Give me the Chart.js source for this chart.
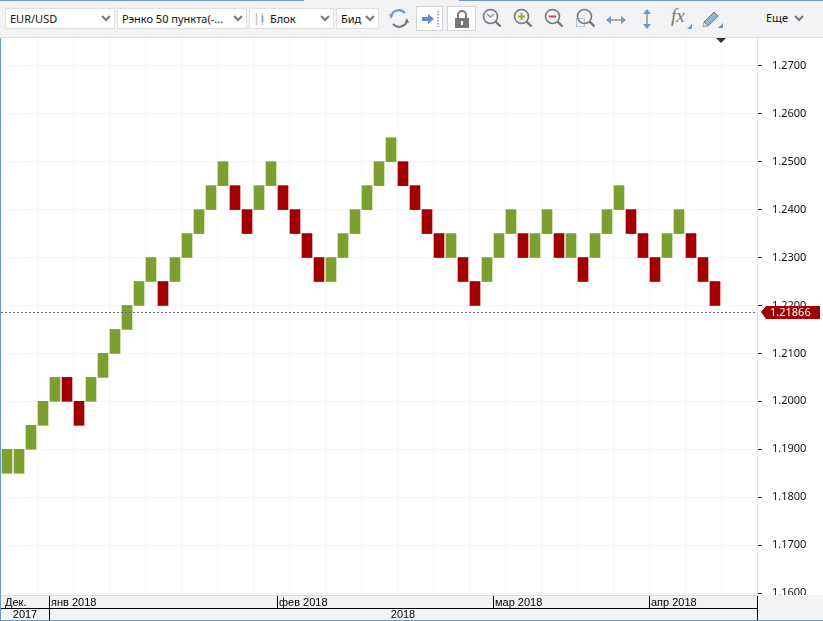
<!DOCTYPE html>
<html>
<head>
<meta charset="utf-8">
<title>EUR/USD</title>
<script src="https://cdn.jsdelivr.net/npm/chart.js@4"></script>
<style>
html, body { margin: 0; padding: 0; background: #fff; overflow: hidden; }
#wrap { position: relative; width: 823px; height: 621px; overflow: hidden; font-family: "Noto Sans", sans-serif; }
#myChart { position: absolute; left: 0; top: 0; }
#toolbar { position: absolute; left: 0; top: 0; width: 823px; height: 37px; background: #f3f3f6; border-bottom: 1px solid #dcdcdc; }
.line { position: absolute; top: 0; height: 1px; background: #6f97c8; }
.combo { position: absolute; top: 8px; height: 21px; line-height: 20px; background: #fff; border: 1px solid #e0e0e0; box-sizing: border-box; font-size: 11px; color: #111; padding-left: 4px; white-space: nowrap; }
.combo svg, .icon { position: absolute; }
.combo svg.arrow { right: 3px; top: 6px; }
.btn { position: absolute; top: 6px; width: 27px; height: 25px; background: #fff; border: 1px solid #d4d4d4; box-sizing: border-box; }
#more { position: absolute; left: 766px; top: 10px; font-size: 11px; color: #111; }
</style>
</head>
<body>
<div id="wrap">
<canvas id="myChart" width="823" height="621"></canvas>
<div id="toolbar">
    <div class="line" style="left:0;width:304px"></div>
    <div class="line" style="left:459px;width:364px"></div>
    <div class="combo" style="left:5px;width:110px">EUR/USD<svg class="arrow" width="10" height="8"><path d="M1 1l4 4 4-4" fill="none" stroke="#777" stroke-width="2"/></svg></div>
    <div class="combo" style="left:117px;width:130px">Рэнко 50 пункта(-...<svg class="arrow" width="10" height="8"><path d="M1 1l4 4 4-4" fill="none" stroke="#777" stroke-width="2"/></svg></div>
    <div class="combo" style="left:249px;width:85px;padding-left:20px"><svg style="left:4px;top:3px" width="11" height="14"><path d="M2.5 1v12M8.5 1v12" stroke="#c8c8c8" stroke-width="1.5"/><path d="M8.5 4v6" stroke="#7fa3cf" stroke-width="1.5"/></svg>Блок<svg class="arrow" width="10" height="8"><path d="M1 1l4 4 4-4" fill="none" stroke="#777" stroke-width="2"/></svg></div>
    <div class="combo" style="left:336px;width:43px">Бид<svg class="arrow" width="10" height="8"><path d="M1 1l4 4 4-4" fill="none" stroke="#777" stroke-width="2"/></svg></div>

    <svg class="icon" style="left:388px;top:7px" width="22" height="24" fill="none"><path d="M3 10a8 8 0 0 1 14-4" stroke="#6f97c8" stroke-width="2"/><path d="M19 13a8 8 0 0 1-14 4" stroke="#777" stroke-width="2"/><path d="M1 7l4 1-2 4z" fill="#6f97c8"/><path d="M21 16l-4-1 2-4z" fill="#777"/></svg>
    <div class="btn" style="left:416px"><svg class="icon" style="left:3px;top:3px" width="22" height="18"><path d="M2 7h6V4l6 5-6 5v-3H2z" fill="#5a8fd0"/><path d="M18 1v16" stroke="#555" stroke-dasharray="1.5 1.5"/></svg></div>
    <div class="btn" style="left:447px;width:29px"><svg class="icon" style="left:6px;top:3px" width="16" height="18"><path d="M4 8V5a4 4 0 0 1 8 0v3" fill="none" stroke="#777" stroke-width="2"/><path d="M1 8h14v10H1z" fill="#777"/><path d="M7 11h2v4H7z" fill="#fff"/></svg></div>

    <svg class="icon" style="left:482px;top:8px" width="20" height="20" fill="none"><circle cx="8.5" cy="8.5" r="7" stroke="#777" stroke-width="1.6"/><path d="M13.5 13.5l5 5" stroke="#777" stroke-width="2.4"/><path d="M5 6l3.5 3 3.5-3" stroke="#6f97c8" stroke-width="1.4"/></svg>
    <svg class="icon" style="left:513px;top:8px" width="20" height="20" fill="none"><circle cx="8.5" cy="8.5" r="7" stroke="#777" stroke-width="1.6"/><path d="M13.5 13.5l5 5" stroke="#777" stroke-width="2.4"/><path d="M8.5 5v7M5 8.5h7" stroke="#8ab02e" stroke-width="2"/></svg>
    <svg class="icon" style="left:544px;top:8px" width="20" height="20" fill="none"><circle cx="8.5" cy="8.5" r="7" stroke="#777" stroke-width="1.6"/><path d="M13.5 13.5l5 5" stroke="#777" stroke-width="2.4"/><path d="M5 8.5h7" stroke="#d0485a" stroke-width="2"/></svg>
    <svg class="icon" style="left:575px;top:8px" width="20" height="20" fill="none"><circle cx="9.5" cy="8.5" r="7" stroke="#777" stroke-width="1.6"/><path d="M14.5 13.5l5 5" stroke="#777" stroke-width="2.4"/><path d="M1.5 10.5h8v8h-8z" stroke="#6f97c8" stroke-dasharray="1 1"/></svg>
    <svg class="icon" style="left:606px;top:14px" width="20" height="12"><path d="M2 6h16" stroke="#777" stroke-width="1.2"/><path d="M0 6l5-4v8zM20 6l-5-4v8z" fill="#6f97c8"/></svg>
    <svg class="icon" style="left:640px;top:9px" width="14" height="20"><path d="M7 2v16" stroke="#777" stroke-width="1.2"/><path d="M7 0l4 5H3zM7 20l4-5H3z" fill="#6f97c8"/></svg>
    <div style="position:absolute;left:671px;top:5px;font:italic 19px 'Liberation Serif',serif;color:#777">fx</div>
    <svg class="icon" style="left:687px;top:24px" width="5" height="5"><path d="M5 0v5H0z" fill="#6f97c8"/></svg>
    <svg class="icon" style="left:701px;top:9px" width="22" height="20"><path d="M3 13L13 3l4 4L7 17z" fill="#8fb0d8" stroke="#777"/><path d="M3 13l4 4-5 1z" fill="#ddd" stroke="#777" stroke-width="0.6"/><path d="M22 14v5h-5z" fill="#6f97c8"/></svg>
    <div id="more">Еще<svg style="position:absolute;left:28px;top:5px" width="10" height="8"><path d="M1 1l4 4 4-4" fill="none" stroke="#777" stroke-width="2"/></svg></div>
</div>
</div>
<script>
// renko bricks, one per column, 50 pips high
var bricks = ["1","2","3","4","5","6","7","8","9","10","11","12","13","14","15","16","17","18","19","20","21",
    "22","23","24","25","26","27","28","29","30","31","32","33","34","35","36","37","38","39","40","41","42",
    "43","44","45","46","47","48","49","50","51","52","53","54","55","56","57","58","59","60","61","62","63"];
var lows = [1.185,1.185,1.19,1.195,1.2,1.2,1.195,1.2,1.205,1.21,1.215,1.22,1.225,1.22,1.225,1.23,1.235,1.24,1.245,1.24,
    1.235,1.24,1.245,1.24,1.235,1.23,1.225,1.225,1.23,1.235,1.24,1.245,1.25,1.245,1.24,1.235,1.23,1.23,1.225,1.22,
    1.225,1.23,1.235,1.23,1.23,1.235,1.23,1.23,1.225,1.23,1.235,1.24,1.235,1.23,1.225,1.23,1.235,1.23,1.225,1.22];
var highs = [1.19,1.19,1.195,1.2,1.205,1.205,1.2,1.205,1.21,1.215,1.22,1.225,1.23,1.225,1.23,1.235,1.24,1.245,1.25,1.245,
    1.24,1.245,1.25,1.245,1.24,1.235,1.23,1.23,1.235,1.24,1.245,1.25,1.255,1.25,1.245,1.24,1.235,1.235,1.23,1.225,
    1.23,1.235,1.24,1.235,1.235,1.24,1.235,1.235,1.23,1.235,1.24,1.245,1.24,1.235,1.23,1.235,1.24,1.235,1.23,1.225];
// 1 = up brick, 0 = down brick
var ups = [1,1,1,1,1,0,0,1,1,1,1,1,1,0,1,1,1,1,1,0,
    0,1,1,0,0,0,0,1,1,1,1,1,1,0,0,0,0,1,0,0,
    1,1,1,0,1,1,0,1,0,1,1,1,0,0,0,1,1,0,0,0];
var priceTicks = [1.16,1.17,1.18,1.19,1.2,1.21,1.22,1.23,1.24,1.25,1.26,1.27];
var lastPrice = 1.21866;
var monthLabels = ["Дек.","янв 2018","фев 2018","мар 2018","апр 2018"];
var monthStarts = [0,4,23,41,54];
var yearLabels = ["2017","2018"];
var yearStarts = [0,4];

var upColor = "#7ba02f";
var downColor = "#a00000";
var timeFont = "11px 'Liberation Sans', sans-serif";

function boundary(scale, i) {
    return scale.left + i * (scale.right - scale.left) / bricks.length;
}

// time strip under the plot, last price line and tag, little marker on top
var extras = {
    id: "extras",
    afterDraw: function (chart) {
        var c = chart.ctx, a = chart.chartArea, x = chart.scales.x, y = chart.scales.y;
        var py = Math.round(y.getPixelForValue(lastPrice));

        c.save();
        c.fillStyle = "#f3f3f6";
        c.fillRect(0, a.bottom, 823, 621 - a.bottom);
        c.fillStyle = "#dcdcdc";
        c.fillRect(0, a.bottom, 758, 1);
        c.fillRect(a.right, 37, 1, a.bottom - 37);

        c.fillStyle = "#000";
        c.fillRect(1, 608, 757, 1);
        c.fillRect(757, 596, 1, 24);
        c.font = timeFont;
        c.textBaseline = "middle";
        c.textAlign = "left";
        for (var i = 0; i < monthLabels.length; i++) {
            var mx = Math.round(boundary(x, monthStarts[i]));
            if (i > 0) c.fillRect(mx, 596, 1, 12);
            c.fillText(monthLabels[i], i > 0 ? mx + 2 : 5, 603);
        }
        c.textAlign = "center";
        for (i = 0; i < yearLabels.length; i++) {
            var x0 = i > 0 ? Math.round(boundary(x, yearStarts[i])) : 1;
            var x1 = i + 1 < yearLabels.length ? Math.round(boundary(x, yearStarts[i + 1])) : a.right;
            if (i > 0) c.fillRect(x0, 608, 1, 12);
            c.fillText(yearLabels[i], (x0 + x1) / 2, 615);
        }

        // blue frame
        c.fillStyle = "#6f97c8";
        c.fillRect(0, 37, 1, 584);
        c.fillRect(0, 620, 823, 1);

        // last price
        c.strokeStyle = "#666";
        c.setLineDash([2, 2]);
        c.beginPath();
        c.moveTo(a.left, py + 0.5);
        c.lineTo(a.right, py + 0.5);
        c.stroke();
        c.setLineDash([]);
        c.fillStyle = downColor;
        c.beginPath();
        c.moveTo(761, py);
        c.lineTo(766, py - 6);
        c.lineTo(820, py - 6);
        c.lineTo(820, py + 7);
        c.lineTo(766, py + 7);
        c.closePath();
        c.fill();
        c.fillStyle = "#fff";
        c.font = "11px 'Noto Sans', sans-serif";
        c.textAlign = "left";
        c.fillText(lastPrice.toFixed(5), 770, py + 1);

        // marker
        c.fillStyle = "#333";
        c.beginPath();
        c.moveTo(716, 38);
        c.lineTo(726, 38);
        c.lineTo(721, 43);
        c.closePath();
        c.fill();
        c.restore();
    }
};

var ctx = document.getElementById("myChart").getContext("2d");
var myChart = new Chart(ctx, {
    type: "bar",
    plugins: [extras],
    data: {
        labels: bricks,
        datasets: [{
            data: lows.map(function (v, i) { return [v, highs[i]]; }),
            backgroundColor: ups.map(function (u) { return u ? upColor : downColor; }),
            barThickness: 10,
            borderWidth: 0
        }]
    },
    options: {
        responsive: false,
        animation: false,
        layout: { padding: { left: 1, top: 38, right: 0, bottom: 26 } },
        plugins: { legend: { display: false }, tooltip: { enabled: false } },
        scales: {
            x: {
                ticks: { display: false, autoSkip: false },
                border: { display: false },
                grid: {
                    drawTicks: false,
                    color: function (c) { return c.index % 3 == 0 ? "#f6f6f6" : "rgba(0,0,0,0)"; }
                }
            },
            y: {
                position: "right",
                min: 1.1596,
                max: 1.2758,
                afterBuildTicks: function (axis) {
                    axis.ticks = priceTicks.map(function (v) { return { value: v }; });
                },
                afterFit: function (axis) { axis.width = 66; },
                border: { display: false },
                grid: { color: "#f6f6f6", tickColor: "#222", tickLength: 5 },
                ticks: {
                    padding: 10,
                    color: "#111",
                    font: { family: "'Noto Sans', sans-serif", size: 11 },
                    callback: function (v) { return v.toFixed(4); }
                }
            }
        }
    }
});
</script>
</body>
</html>
